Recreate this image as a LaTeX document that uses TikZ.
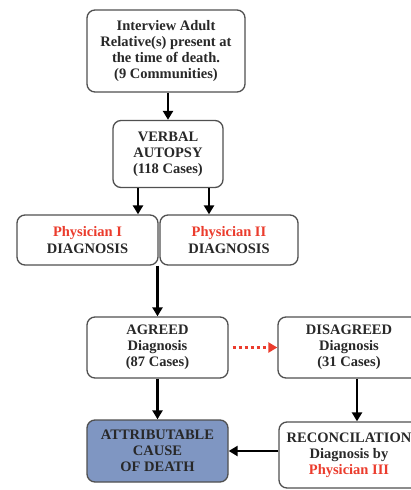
\documentclass[tikz,border=0pt]{standalone}
\usepackage{fontspec}
\setmainfont{Liberation Serif}
\usetikzlibrary{arrows.meta}
\definecolor{boxline}{RGB}{80,80,80}
\definecolor{txt}{RGB}{40,40,40}
\definecolor{redtxt}{RGB}{235,60,45}
\definecolor{bluefill}{RGB}{127,150,194}
\tikzset{
  fbox/.style={draw=boxline, line width=1.3pt, rounded corners=8pt, fill=white,
    align=center, text=txt, inner sep=0pt,
    font=\bfseries\fontsize{14.5}{16.2}\selectfont},
  arr/.style={line width=2.4pt, -{Triangle[length=9pt,width=10pt]}},
  redarr/.style={draw=redtxt, line width=2.4pt, dash pattern=on 3pt off 3pt,
    -{Triangle[length=9pt,width=10pt,fill=redtxt]}, redtxt},
}
\newcommand{\rd}[1]{\textcolor{redtxt}{#1}}
\begin{document}
\begin{tikzpicture}[x=1pt,y=-1pt]
\useasboundingbox (0,0) rectangle (410,490);
\node[fbox, minimum width=158pt, minimum height=82pt] (b1) at (166,51)
  {Interview Adult\\Relative(s) present at\\the time of death.\\(9 Communities)};
\node[fbox, minimum width=110pt, minimum height=67pt] (verbal) at (168,154)
  {VERBAL\\AUTOPSY\\(118 Cases)};
\node[fbox, minimum width=141pt, minimum height=50pt] (p1) at (87.5,240)
  {\rd{Physician I}\\DIAGNOSIS};
\node[fbox, minimum width=138pt, minimum height=50pt] (p2) at (229,240)
  {\rd{Physician II}\\DIAGNOSIS};
\node[fbox, minimum width=141pt, minimum height=61pt] (agreed) at (157.5,347.5)
  {AGREED\\Diagnosis\\(87 Cases)};
\node[fbox, minimum width=142pt, minimum height=61pt] (disagreed) at (349,347.5)
  {DISAGREED\\Diagnosis\\(31 Cases)};
\node[fbox, fill=bluefill, minimum width=141pt, minimum height=62pt] (attrib) at (157.5,451)
  {ATTRIBUTABLE\\CAUSE\\OF DEATH};
\node[fbox, minimum width=140pt, minimum height=66pt] (recon) at (349,455)
  {RECONCILATION\\Diagnosis by\\\rd{Physician III}};
\draw[arr] (verbal.north |- b1.south) -- (verbal.north);
\draw[arr] ([xshift=-30pt]verbal.south) -- ([xshift=-30pt]verbal.south |- p1.north);
\draw[arr] ([xshift=41pt]verbal.south) -- ([xshift=41pt]verbal.south |- p2.north);
\draw[arr] (agreed.north |- p1.south) -- (agreed.north);
\draw[redarr] ([xshift=4pt]agreed.east) -- (disagreed.west);
\draw[arr] (agreed.south) -- (attrib.north);
\draw[arr] ([xshift=8pt]disagreed.south) -- ([xshift=8pt]disagreed.south |- recon.north);
\draw[arr] (recon.west |- attrib.east) -- (attrib.east);
\end{tikzpicture}
\end{document}
